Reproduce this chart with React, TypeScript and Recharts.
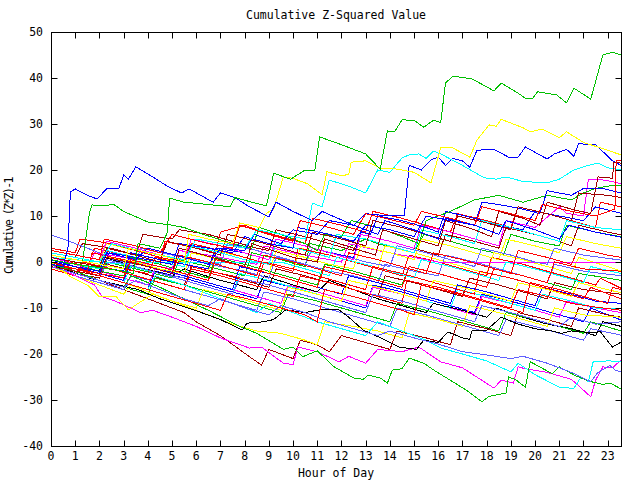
import React from "react";
import { LineChart, Line, XAxis, YAxis } from "recharts";

type Pt = [number, number];

const hourTicks = [0,1,2,3,4,5,6,7,8,9,10,11,12,13,14,15,16,17,18,19,20,21,22,23];
const valueTicks = [-40,-30,-20,-10,0,10,20,30,40,50];
const X_DOMAIN: [number, number] = [0, 23.55];
const Y_DOMAIN: [number, number] = [-40, 50];

const RED = "#ff0000", GREEN = "#00c000", BLUE = "#0000ff", MAGENTA = "#ff00ff", CYAN = "#00ffff",
  DARKRED = "#a00000", YELLOW = "#ffff00", BLACK = "#000000", LIGHTBLUE = "#6060ff";

const gTop: Pt[] = [[0,0.5],[1,-0.5],[2,-1.2],[3,-2],[3.4,-2.5],[3.6,4],[4.5,3],[4.8,6.3],[4.9,13.9],[5.5,13],[6.5,12.5],[7.4,12],[7.6,14],[8.3,13],[8.9,12.2],[9.2,19.3],[9.9,18],[10.5,20],[10.9,20],[11.1,27.2],[12,25.5],[13,23.5],[13.6,20.2],[13.9,28.5],[14.2,28.3],[14.5,30.9],[15,30.8],[15.4,29.3],[15.8,30.8],[16.1,30.3],[16.3,38.9],[16.6,40.4],[17.4,39.8],[18.3,37.2],[18.6,38.9],[19.3,36.7],[19.6,35.6],[19.9,35.6],[20.1,37],[20.9,36.3],[21.3,34.6],[21.6,37.8],[22.3,35.4],[22.8,45],[23.2,45.6],[23.55,45]];
const yTop: Pt[] = [[0,1.5],[1,0.5],[2,-0.5],[3,-1.5],[3.2,3],[4.5,1.5],[5.5,0],[5.7,6],[6.5,5],[7.5,4],[7.8,8.5],[8.6,7.5],[8.9,10.6],[9.2,11.5],[9.6,18.5],[10,18.2],[10.6,17],[11.2,14.6],[11.4,19.6],[12,18.8],[12.3,19],[12.4,21.7],[13,22],[13.6,20.4],[14.3,20.2],[15,19.5],[15.7,17.2],[16.1,24.8],[16.6,24.8],[17.3,22.8],[17.6,26.5],[18.1,29.8],[18.4,29.5],[18.6,31],[19.5,29.2],[19.8,28.3],[20.3,28.9],[21,27],[21.3,28.3],[22,26],[22.7,24.8],[23.55,23.3]];
const bTop: Pt[] = [[0,-0.5],[0.5,-1],[0.7,3],[0.8,15.2],[1,15.9],[1.5,14.5],[1.9,13.7],[2.3,15.9],[2.8,15.9],[3,18.9],[3.2,18],[3.5,20.7],[4.2,18.5],[4.8,16.5],[5.4,15],[5.7,15.9],[6.7,13],[7,15],[7.6,14],[8.2,12],[9,9.8],[9.3,13],[10,11],[10.8,9],[11.2,11],[12.5,8],[13.5,6],[13.8,9],[15,7],[16,5],[16.3,9.5],[17.5,8],[18.5,6],[18.8,9],[20,7],[21,5],[21.4,8],[22.5,6.5],[23.55,5.4]];
const bHigh: Pt[] = [[0,0],[1,-1],[2,-2],[2.3,2],[3.5,0.5],[4,3],[5.5,1],[6.5,-0.5],[7,3],[8,2.5],[8.4,6],[9.5,4],[10,7],[11,6],[11.5,9],[12.5,8],[13,10.5],[14,10],[14.6,10.2],[14.8,21],[15.3,20],[15.7,22.2],[16,22.8],[16.3,21],[16.6,22.5],[17,22],[17.3,20.6],[17.6,24.3],[18.3,24.5],[18.9,22.8],[19.3,22.8],[19.6,25],[20.5,22.4],[20.8,23.5],[21.3,24.5],[21.6,23],[21.8,25.7],[22.5,25.5],[23.2,22],[23.55,21]];
const cHigh: Pt[] = [[0,2],[1,1],[2,0],[2.5,4],[4,2],[5.5,0.5],[6,5],[7,4],[8,3],[8.5,7],[9.5,6],[10.5,5],[10.8,12.8],[11.2,12],[11.5,17.8],[12.3,16.5],[13,15],[13.5,20],[14,19.5],[14.5,22.6],[14.8,23.3],[15.2,23.5],[15.5,22.5],[15.8,24.1],[16.1,23.5],[17,21],[17.9,18.3],[18.4,18],[18.8,18.5],[19.5,17.5],[20.5,17.2],[21,18],[21.6,20],[22.2,21],[22.6,21.5],[23,20.5],[23.55,20]];
const dRight: Pt[] = [[0,-1],[2,-3],[2.3,1],[4,-1],[5,-2.5],[5.3,3],[7,0.5],[8,-1],[8.3,4],[10,1],[11,0],[11.3,5],[12.5,3],[13.4,1.5],[13.7,7],[15,5],[16,3.5],[16.3,9],[17.5,7],[18.2,5.5],[18.5,11],[19.5,9.5],[20.2,8],[20.5,13],[21.5,11.5],[22.3,10.5],[22.6,18.5],[23,18.3],[23.2,18.2],[23.25,21.7],[23.55,21.5]];
const rRight: Pt[] = [[0,2.5],[1,1.5],[2,0.5],[2.2,5],[3.5,3.5],[4.5,2],[5,6],[6.5,4],[7.5,3],[7.8,8],[9,6],[10,4.5],[10.3,9],[11.5,7.5],[12.5,6],[13,10.5],[14.2,9],[15,8],[15.3,11],[16.5,9.5],[17.5,8],[17.8,12],[19,10.5],[20,9],[20.3,12.5],[21.5,11],[22.5,10],[23.3,11.5],[23.35,22],[23.55,22]];
const g12: Pt[] = [[0,0],[0.5,-0.5],[1.3,0],[1.6,11],[1.7,12.4],[2.1,12.2],[2.6,12.5],[3,11],[4,8.7],[5,8],[5.5,7.5],[6.3,6],[7.5,4],[8.3,3],[8.6,7.5],[9.5,6],[10.5,4],[11,2.5],[11.3,6],[12,5.5],[12.4,9],[13.5,7.5],[14.5,5.5],[15.2,4],[15.5,9],[16.5,11],[17.5,13.5],[18.5,14.5],[19.5,13],[20.5,14.5],[21.5,13.5],[22,15],[22.5,16],[23,16.5],[23.55,16.7]];
const gLow: Pt[] = [[0,-0.5],[1,-2],[2,-4],[3,-5.5],[3.3,-3],[4.5,-5.5],[5.5,-8],[6.5,-10.5],[7.8,-14],[8.5,-15.5],[9.6,-19],[10,-18.5],[10.4,-20.6],[11,-19.3],[11.7,-22.8],[12.5,-25.2],[12.9,-25.5],[13.1,-24.6],[13.6,-25.2],[13.9,-26.3],[14.1,-23.5],[14.5,-23.2],[14.8,-20.9],[15.4,-22],[15.9,-23.8],[16.5,-25.7],[17.2,-28],[17.8,-30.4],[18.1,-29.2],[18.8,-28.5],[18.9,-25],[19.2,-25.6],[19.6,-27.2],[19.8,-21.7],[20.2,-22.8],[20.7,-24.3],[21,-22.8],[21.7,-24.8],[22.3,-26],[22.8,-26.6],[23.1,-26.3],[23.55,-27.6]];
const mLow: Pt[] = [[0,-0.5],[1,-3],[1.8,-5],[2.1,-7.5],[2.7,-8.6],[3.7,-11],[4.2,-10.5],[5,-12],[6,-14],[7,-16.5],[8.2,-18.7],[8.7,-18.5],[9.6,-22],[10,-22.3],[10.2,-18.5],[11,-19.5],[11.9,-21.7],[12.3,-20.5],[13,-22],[13.5,-19],[14.5,-19.5],[15.2,-18.5],[16.1,-21.7],[17,-23],[18.3,-27.4],[18.6,-25.7],[19.1,-26.3],[19.3,-22.8],[19.6,-23.2],[20.5,-24],[21.5,-25.5],[22.3,-29.3],[22.5,-25.7],[22.8,-22.8],[23.2,-23],[23.55,-21.3]];
const cLow: Pt[] = [[0,0],[1,-1.5],[2,-3],[3,-4.5],[4,-6],[4.3,-3],[5.5,-5],[6.5,-7],[7.5,-9],[8.5,-11],[9,-9],[10,-11],[11,-13],[12,-14.5],[13,-16],[13.5,-13],[14.5,-15],[15.5,-17],[16.1,-18.7],[17,-20],[18,-21.5],[19,-23.9],[19.3,-22],[20,-24.5],[21,-27.2],[21.6,-27.5],[21.9,-25],[22.2,-26],[22.4,-21.7],[23,-21.5],[23.55,-21.6]];
const lLow: Pt[] = [[0,-1],[1,-2.5],[2,-4],[3,-5.5],[3.5,-4],[4.5,-6],[5.5,-8],[6.5,-9.5],[7,-8],[8,-10],[9,-11.5],[9.5,-9.5],[10.5,-11],[11.5,-13],[12.5,-14.5],[13.5,-16],[14,-15],[15,-16.5],[16.1,-18],[17,-19.5],[18,-20.2],[19,-21],[19.5,-20.5],[20.5,-22],[21.5,-24],[22.3,-26],[22.6,-24],[23.1,-22.5],[23.3,-23.5],[23.55,-23.9]];
const kLow: Pt[] = [[0,-0.5],[1.6,-3.5],[3.6,-6],[4.5,-8],[5.9,-10.4],[7,-12.5],[7.9,-14.8],[8.1,-13.3],[8.8,-13],[9.2,-12.5],[9.7,-10.4],[10.5,-11],[11.1,-10.4],[11.9,-10.4],[12.3,-12],[12.9,-14.8],[13.5,-16.2],[14.4,-18.5],[15.1,-19],[15.4,-17],[16,-17.5],[16.4,-15.2],[17,-16.5],[17.3,-16.8],[17.4,-14.8],[18,-14.8],[18.6,-12],[19.3,-13.5],[20,-14.5],[20.7,-15],[21.1,-15.5],[21.5,-15],[22.2,-15.3],[22.7,-15.2],[23.2,-18.5],[23.55,-17.4]];
const kMid: Pt[] = [[0,0.5],[1,-0.5],[2,-2],[2.2,1],[3.5,-1],[5,-3],[5.5,-1.5],[7,-4],[8.5,-6],[8.8,-3],[10,-5],[11,-6.5],[11.5,-4],[12.5,-6],[13.5,-8],[14.5,-9.5],[15.5,-11],[15.8,-9],[17,-10.5],[18,-12],[18.4,-10],[19.5,-12],[20.5,-13.5],[21.5,-14.5],[22.5,-16],[22.8,-13],[23.55,-14]];
const rA: Pt[] = [[0,1],[1.5,-1],[1.8,3],[3,1.5],[4.5,-0.5],[4.7,4.5],[6,3],[6.8,2],[7,6.5],[8,8],[8.5,7],[9.5,5.5],[10.5,4],[10.8,9.5],[12,8],[13,6.5],[13.3,11],[14.5,9.5],[15.5,8],[16.5,6.5],[16.8,10.5],[18,9],[19,7.5],[19.3,12],[20.5,10.5],[21.5,9],[22.5,7.5],[22.7,13],[23.55,12]];
const gA: Pt[] = [[0,-1],[1,-2.5],[2,-3.5],[2.3,0],[3.5,-1.5],[5,-3.5],[5.3,0.5],[6.5,-1],[8,-3],[8.3,2],[9.5,0.5],[10.5,-1],[10.7,4],[12,2.5],[13,5],[13.5,4],[15,2],[15.4,6],[16.5,4.5],[17.5,3],[18.7,1.5],[19,6],[20,4.5],[21,3.5],[21.3,8],[22.5,6.5],[23.55,5.5]];
const bB: Pt[] = [[0,-0.5],[1,-1.5],[2,-2.5],[2.4,2],[3.5,1],[4.5,0],[5,-0.5],[5.3,4],[6.5,3],[7.5,2],[8,5.5],[9,4],[10,3],[10.2,7.5],[11.5,6],[12.5,4.5],[13,8],[14,7],[15,5.5],[15.5,10],[16.5,9],[17.5,8],[17.8,13],[18.5,12.5],[19.5,11.5],[20.2,10.5],[20.5,15.5],[21.5,14.5],[22,16],[22.8,16],[23.55,15]];
const bC: Pt[] = [[0,1],[1,0],[2,-1],[3,-2],[3.3,2],[4.5,0.5],[5.5,-0.5],[6.5,-1.5],[6.8,3],[8,2],[9,0.5],[9.3,5],[10.5,3.5],[11.5,2],[12.5,1],[12.8,6.5],[13.2,6],[13.5,10],[14.5,9],[15.5,7.5],[16,6.5],[16.3,11],[17.5,9.5],[18.5,8],[19.5,7],[20,11],[21,10],[22,9],[22.5,12],[23.55,10.6]];
const dB: Pt[] = [[0,2],[1,1],[1.3,4],[2.5,3],[3.5,1.5],[3.8,6],[5,5],[5.3,7],[6.5,6],[7.5,4.5],[8.5,3],[9,2.5],[9.3,7],[10.5,5.5],[11.5,4],[12.5,2.5],[12.8,6],[14,4.5],[15,3],[16,1.5],[16.3,6],[17.5,4.5],[18.5,3],[18.8,7.5],[20,6],[21,4.5],[21.5,3.5],[21.8,8],[23,6.5],[23.55,5.9]];
const lA: Pt[] = [[0,5.9],[0.5,5],[1,4],[1.5,3],[2,2],[2.3,1],[3,0],[3.5,-0.5],[3.7,3],[5,1.5],[6,0.5],[7,-0.5],[7.3,4],[8.5,2.5],[9.5,1],[10.5,-0.5],[10.8,3],[12,1.5],[13,0],[14,-1],[14.3,3.5],[15.5,2],[16.5,0.5],[17.5,-1],[17.8,3],[19,1.5],[20,0],[20.5,-0.5],[20.8,3],[22,1.5],[23.55,0.4]];
const mFlat: Pt[] = [[0,0.5],[1,-0.5],[1.5,-1.5],[1.8,2],[3,1],[4,-0.5],[5,-1.5],[5.3,2.5],[6.5,1.5],[7.5,0.5],[8.5,-0.5],[8.8,3.5],[10,2],[11,1],[12,0],[12.3,4],[13.5,2.5],[15,1],[16,0],[23.55,0]];
const lB: Pt[] = [[0,-1],[1,-2],[2,-3],[2.4,0],[3.5,-1],[4.5,-2.5],[5.5,-3.5],[5.8,0.5],[7,-1],[8,-2],[9,-3.5],[9.3,1],[10.5,-0.5],[11.5,-2],[12.5,-3],[13.5,-4.5],[13.8,-0.5],[15,-2],[16,-3],[16.3,1.5],[17.5,0],[18.5,-1.5],[19.5,-3],[20.5,-4.5],[20.8,-0.5],[22,-2],[23.55,-3]];
const rB: Pt[] = [[0,3],[1,2],[1.2,5],[2.5,4],[3.5,2.5],[4.5,1],[5.5,0],[5.8,4],[7,2.5],[8,1],[9,-0.5],[10,-2],[10.2,3],[11.5,1.5],[12.5,0],[13.5,-1.5],[14.5,-3],[14.8,1.5],[16,0],[17,-1.5],[18,-3],[18.2,1],[19.5,-0.5],[20.5,-2],[21.5,-3.5],[22.5,-5],[22.7,-3.5],[23.55,-5.7]];
const yB: Pt[] = [[0,0],[0.8,-3.2],[1.5,-5],[2,-7.6],[2.7,-7.6],[3.2,-10.4],[3.6,-9],[4.2,-7],[5,-8.5],[6,-10],[6.3,-6],[7.5,-7.5],[8.5,-9],[9.5,-10.5],[9.8,-5.5],[11,-7],[12,-8.5],[12.3,-4],[13.5,-5.5],[14.5,-7],[15.5,-8.5],[15.8,-4],[17,-5.5],[18,-7],[19,-8.5],[19.3,-4.5],[20.5,-6],[21.5,-7.5],[21.8,-4.5],[23,-6],[23.55,-6.7]];
const rC: Pt[] = [[0,1.5],[1,0.5],[2,-0.5],[3,-1.5],[4,-2.5],[4.3,1],[5.5,-0.5],[6.5,-2],[7.5,-3],[8.5,-4.5],[8.8,0],[10,-1.5],[11,-3],[12,-4.5],[13,-6],[13.3,-1],[14.5,-2.5],[15.5,-4],[16.5,-5.5],[17.5,-7],[17.7,-2],[19,-3.5],[20,-5],[21,-6.5],[22,-8],[22.3,-5.5],[23.55,-8]];
const cB: Pt[] = [[0,-0.5],[1,-2],[2,-3],[3,-4.5],[3.3,-1],[4.5,-2.5],[5.5,-4],[6.5,-5.5],[7.5,-7],[7.8,-2.5],[9,-4],[10,-5.5],[11,-7],[12,-8.5],[12.3,-4],[13.5,-5.5],[14.5,-7],[15.5,-8.5],[16.5,-10],[16.8,-6],[18,-7.5],[19,-9],[20,-10.5],[20.3,-7],[21.5,-8.5],[22.5,-10],[23.55,-10]];
const rD: Pt[] = [[0,-1.5],[1,-3],[1.3,0],[2.5,-1.5],[3.5,-3],[4.5,-4.5],[5.5,-6],[5.8,-1.5],[7,-3],[8,-4.5],[9,-6],[10,-7.5],[10.3,-3],[11.5,-4.5],[12.5,-6],[13.5,-7.5],[14.5,-9],[14.7,-4],[16,-5.5],[17,-7],[18,-8.5],[19,-10],[19.3,-6],[20.5,-7.5],[21.5,-9],[22.5,-9.8],[23.55,-10.5]];
const bD: Pt[] = [[0,0],[1,-1.5],[2,-3],[3,-4.5],[4,-6],[4.3,-2],[5.5,-3.5],[6.5,-5],[7.5,-6.5],[8.5,-8],[8.8,-4],[10,-5.5],[11,-7],[12,-8.5],[13,-10],[13.3,-5],[14.5,-6.5],[15.5,-8],[16.5,-9.5],[17.5,-11],[17.8,-7],[19,-8.5],[20,-10],[21,-11.5],[22,-13],[22.3,-10],[23.55,-12.6]];
const lC: Pt[] = [[0,-1.5],[1,-3],[2,-4.5],[3,-6],[3.3,-3],[4.5,-4.5],[5.5,-6],[6.5,-7.5],[7.5,-9],[8.5,-10.5],[8.8,-6.5],[10,-8],[11,-9.5],[12,-11],[13,-12.5],[14,-14],[14.3,-10],[15.5,-11.5],[16.5,-13],[17.5,-14.5],[18.5,-16],[18.8,-12.5],[20,-14],[21,-15.5],[22,-17],[22.3,-14.5],[23.55,-15.9]];
const yC: Pt[] = [[0,2],[1,1],[2,0],[2.3,4],[3.5,2.5],[4.5,1],[5.5,-0.5],[6.5,-2],[6.8,2.5],[8,1],[9,-0.5],[10,-2],[10.3,3],[11.5,1.5],[12.5,0],[13.5,-1.5],[13.8,3.5],[15,2],[16,0.5],[17,-1],[18,-2.5],[18.3,2],[19.5,0.5],[20.5,-1],[21.5,-2.5],[21.8,1],[23,-1],[23.55,-2]];
const gB: Pt[] = [[0,0.5],[1,-0.5],[2,-2],[3,-3],[3.3,1],[4.5,-0.5],[5.5,-2],[6.5,-3.5],[6.8,1],[8,-0.5],[9,-2],[10,-3.5],[11,-5],[11.3,-0.5],[12.5,-2],[13.5,-3.5],[14.5,-5],[14.8,-1],[16,-2.5],[17,-4],[18,-5.5],[18.3,-1.5],[19.5,-3],[20.5,-4.5],[21.5,-6],[21.8,-2.5],[23,-3.5],[23.55,-4]];
const dC: Pt[] = [[0,-1],[1,-2.5],[2,-3.5],[2.3,-0.5],[3.5,-2],[4.5,-3.5],[5.5,-5],[5.8,-1],[7,-2.5],[8,-4],[9,-5.5],[9.3,-1.5],[10.5,-3],[11.5,-4.5],[12.5,-6],[13.5,-7.5],[13.8,-3],[15,-4.5],[16,-6],[17,-7.5],[17.3,-3.5],[18.5,-5],[19.5,-6.5],[20.5,-8],[20.8,-4.5],[22,-6],[23.55,-7]];
const mB: Pt[] = [[0,1],[1,-0.5],[2,-2],[3,-3.5],[4,-5],[4.3,-1.5],[5.5,-3],[6.5,-4.5],[7.5,-6],[8.5,-7.5],[9.5,-9],[9.8,-5],[11,-6.5],[12,-8],[13,-9.5],[13.3,-5.5],[14.5,-7],[15.5,-8.5],[16.5,-10],[17.5,-11.5],[17.8,-7.5],[19,-9],[20,-10.5],[21,-12],[21.3,-8.5],[22.5,-10],[23.55,-11]];
const cFlat: Pt[] = [[0,1],[1,0.5],[2,0],[3,-0.5],[3.5,0],[9.5,0],[10.5,-1.5],[11.5,-3],[11.8,1],[13,-0.5],[14,-2],[15,-3.5],[15.3,0.5],[16.5,-1],[17.5,-2.5],[18.5,-4],[18.8,0],[20,-1.5],[21,-3],[22,-4.5],[22.3,-1],[23.55,-2.5]];
const yD: Pt[] = [[0,-0.5],[1,-2],[2,-3],[2.3,1],[3.5,0],[4.5,-1.5],[5.5,-2.5],[5.8,2],[7,0.5],[8,-1],[9,-2.5],[9.3,2.5],[10.5,1],[11.5,-0.5],[12.5,-1.5],[12.8,3.5],[14,2],[15,0.5],[15.3,5],[16.5,3.5],[17.5,2],[18.5,0.5],[18.8,5],[20,3.5],[21,2],[21.3,5.5],[22.5,4],[23.55,3]];
const rE: Pt[] = [[0,0],[1,-1],[1.5,-2],[1.7,2],[3,0.5],[4,-1],[5,-2.5],[5.3,1.5],[6.5,0],[7.5,-1.5],[8.5,-3],[8.8,1.5],[10,0],[11,-1.5],[12,-3],[12.3,2],[13.5,0.5],[14.5,-1],[15.5,-2.5],[15.8,2],[17,0.5],[18,-1],[19,-2.5],[19.3,2.5],[20.5,1],[21.5,-0.5],[21.8,3],[23,1.5],[23.55,1]];
const dLow: Pt[] = [[0,0],[1,-2],[2,-4],[3,-6],[4,-8],[5,-10],[5.5,-11],[6,-13],[7,-16],[8.2,-20.6],[8.7,-22.4],[9,-19],[9.5,-20],[10,-21],[10.3,-17],[11,-18],[11.5,-19.5],[12,-16],[13,-17.5],[14,-19],[14.3,-15],[15.5,-16.5],[16.5,-18],[16.8,-13],[18,-14.5],[19,-16],[19.3,-11],[20.5,-12.5],[21.5,-14],[21.8,-10],[23,-11.5],[23.55,-12]];
const bE: Pt[] = [[0,0.5],[1,-1],[2,-2.5],[3,-4],[3.3,0],[4.5,-1.5],[5.5,-3],[6.5,-4.5],[7.5,-6],[7.8,-1],[9,-2.5],[10,-4],[11,-5.5],[12,-7],[12.3,-3],[13.5,-4.5],[14.5,-6],[15.5,-7.5],[16.5,-9],[16.8,-5],[18,-6.5],[19,-8],[20,-9.5],[20.3,-5.5],[21.5,-7],[22.5,-8.5],[23.55,-9]];
const gC: Pt[] = [[0,-1],[1,-2.5],[2,-4],[3,-5.5],[4,-7],[4.3,-3.5],[5.5,-5],[6.5,-6.5],[7.5,-8],[8.5,-9.5],[9.5,-11],[9.8,-7],[11,-8.5],[12,-10],[13,-11.5],[14,-13],[14.3,-9],[15.5,-10.5],[16.5,-12],[17.5,-13.5],[18.5,-15],[18.8,-11],[20,-12.5],[21,-14],[22,-15.5],[22.3,-13],[23.55,-15]];
const mC: Pt[] = [[0,2.5],[1,1.5],[2,0.5],[2.3,4.5],[3.5,3],[4.5,1.5],[5.5,0.5],[5.8,5],[7,3.5],[8,2],[9,0.5],[9.3,5],[10.5,3.5],[11.5,2],[12.5,0.5],[12.8,6],[14,4.5],[15,3],[15.3,8],[16.5,6.5],[17.5,5],[18.5,3.5],[18.8,9],[20,7.5],[21,12],[21.3,10.6],[22,10],[22.2,18],[22.6,18],[23.2,17.5],[23.55,17]];
const yE: Pt[] = [[0,-1],[1,-3],[2,-5],[3,-7],[3.3,-5],[4.5,-7.5],[5.5,-9.5],[6.5,-11.5],[7.5,-13.5],[8.5,-15],[9.5,-15.5],[10.5,-17],[11,-18],[11.3,-13],[12.5,-14],[13.5,-15],[14.5,-16.5],[14.8,-11],[16,-12.5],[17,-14],[17.3,-9.5],[18.5,-11],[19.5,-12.5],[20.5,-14],[20.8,-10],[22,-11.5],[23.55,-12]];
const cC: Pt[] = [[0,0.5],[1,-0.5],[2,-1.5],[2.3,2.5],[3.5,1],[4.5,0],[5.5,-1],[5.8,3.5],[7,2],[8,0.5],[9,-0.5],[9.3,4],[10.5,2.5],[11.5,1],[11.8,6],[13,5],[14,3.5],[15,2],[15.3,7],[16.5,5.5],[17.5,4],[17.8,9],[19,7.5],[20,6],[21,4.5],[21.3,9],[22.5,7.5],[23.55,7]];
const rF: Pt[] = [[0,-0.5],[1,-1.5],[2,-2.5],[3,-3.5],[3.3,0.5],[4.5,-1],[5.5,-2.5],[6.5,-4],[6.8,0.5],[8,-1],[9,-2.5],[10,-4],[11,-5.5],[11.3,-1],[12.5,-2.5],[13.5,-4],[14.5,-5.5],[14.8,-1],[16,-2.5],[17,-4],[18,-5.5],[18.3,-1.5],[19.5,-3],[20.5,-4.5],[20.8,0],[22,-1.5],[23.55,-2]];
const dE: Pt[] = [[0,1],[1,0],[2,-1],[2.3,3],[3.5,1.5],[4.5,0],[4.8,4.5],[6,3],[7,1.5],[7.3,6],[8.5,4.5],[9.5,3],[10.5,1.5],[10.8,6.5],[12,5],[13,3.5],[13.3,9],[14.5,7.5],[15.5,6],[16.5,4.5],[16.8,10],[18,8.5],[19,7],[19.3,12],[20.5,10.5],[21.5,9],[21.8,15],[23,14.5],[23.55,14]];
const rG: Pt[] = [[0,0],[1,-1.5],[2,-3],[3,-4.5],[4,-6],[5,-7.5],[6,-9],[7,-10.5],[7.3,-7],[8.5,-8.5],[9.5,-10],[10.5,-11.5],[11,-13],[11.3,-6],[12.5,-7.5],[13.5,-9],[14.5,-10.5],[15,-11.5],[15.3,-5],[16.5,-6.5],[17.5,-8],[18.5,-9.5],[19.5,-11],[19.8,-4.5],[21,-6],[22,-7.5],[23,-9],[23.2,-5.5],[23.55,-6]];
const lD: Pt[] = [[0,0],[1,-1.5],[2,-3],[2.3,0.5],[3.5,-1],[4.5,-2.5],[5.5,-4],[6.5,-5.5],[7.5,-7],[7.8,-3.5],[9,-5],[10,-6.5],[11,-8],[12,-9.5],[13,-11],[13.3,-7],[14.5,-8.5],[15.5,-10],[16.5,-11.5],[17.5,-13],[17.8,-9.5],[19,-11],[20,-12.5],[21,-14],[21.5,-12],[22.5,-13.5],[23.55,-13]];

const SERIES: { name: string; color: string; pts: Pt[] }[] = [
  { name: "rA", color: RED, pts: rA },
  { name: "gA", color: GREEN, pts: gA },
  { name: "bD", color: BLUE, pts: bD },
  { name: "mB", color: MAGENTA, pts: mB },
  { name: "cB", color: CYAN, pts: cB },
  { name: "dC", color: DARKRED, pts: dC },
  { name: "yC", color: YELLOW, pts: yC },
  { name: "kMid", color: BLACK, pts: kMid },
  { name: "lB", color: LIGHTBLUE, pts: lB },
  { name: "rB", color: RED, pts: rB },
  { name: "gB", color: GREEN, pts: gB },
  { name: "bE", color: BLUE, pts: bE },
  { name: "mFlat", color: MAGENTA, pts: mFlat },
  { name: "cFlat", color: CYAN, pts: cFlat },
  { name: "dB", color: DARKRED, pts: dB },
  { name: "yD", color: YELLOW, pts: yD },
  { name: "lA", color: LIGHTBLUE, pts: lA },
  { name: "rC", color: RED, pts: rC },
  { name: "gC", color: GREEN, pts: gC },
  { name: "bC", color: BLUE, pts: bC },
  { name: "mC", color: MAGENTA, pts: mC },
  { name: "cC", color: CYAN, pts: cC },
  { name: "dLow", color: DARKRED, pts: dLow },
  { name: "yE", color: YELLOW, pts: yE },
  { name: "lC", color: LIGHTBLUE, pts: lC },
  { name: "rD", color: RED, pts: rD },
  { name: "g12", color: GREEN, pts: g12 },
  { name: "bB", color: BLUE, pts: bB },
  { name: "mLow", color: MAGENTA, pts: mLow },
  { name: "cLow", color: CYAN, pts: cLow },
  { name: "dE", color: DARKRED, pts: dE },
  { name: "yB", color: YELLOW, pts: yB },
  { name: "kLow", color: BLACK, pts: kLow },
  { name: "lD", color: LIGHTBLUE, pts: lD },
  { name: "rE", color: RED, pts: rE },
  { name: "gLow", color: GREEN, pts: gLow },
  { name: "bHigh", color: BLUE, pts: bHigh },
  { name: "cHigh", color: CYAN, pts: cHigh },
  { name: "dRight", color: DARKRED, pts: dRight },
  { name: "yTop", color: YELLOW, pts: yTop },
  { name: "lLow", color: LIGHTBLUE, pts: lLow },
  { name: "rF", color: RED, pts: rF },
  { name: "rG", color: RED, pts: rG },
  { name: "rRight", color: RED, pts: rRight },
  { name: "bTop", color: BLUE, pts: bTop },
  { name: "gTop", color: GREEN, pts: gTop },
];

const FONT = "'DejaVu Sans Mono', 'Liberation Mono', monospace";
const tickStyle = { fontFamily: FONT, fontSize: 11.5, fill: "#000" };

// plot-area layout (chart margins + axis sizes)
const CHART_W = 640, CHART_H = 480;
const M_TOP = 32, M_RIGHT = 19, Y_AXIS_W = 51, X_AXIS_H = 34;
const PLOT_L = Y_AXIS_W, PLOT_T = M_TOP;
const PLOT_W = CHART_W - M_RIGHT - Y_AXIS_W, PLOT_H = CHART_H - M_TOP - X_AXIS_H;
const TICK = 6;

function Frame() {
  const [x0, x1] = X_DOMAIN;
  const [y0, y1] = Y_DOMAIN;
  const px = (h: number) => Math.round(PLOT_L + ((h - x0) / (x1 - x0)) * PLOT_W) + 0.5;
  const py = (v: number) => Math.round(PLOT_T + ((y1 - v) / (y1 - y0)) * PLOT_H) + 0.5;
  const L = PLOT_L + 0.5, R = PLOT_L + PLOT_W + 0.5, T = PLOT_T + 0.5, B = PLOT_T + PLOT_H + 0.5;
  return (
    <svg width={CHART_W} height={CHART_H} style={{ position: "absolute", left: 0, top: 0, pointerEvents: "none" }}>
      <rect x={L} y={T} width={R - L} height={B - T} fill="none" stroke="#000" strokeWidth={1} />
      {hourTicks.map((h) => (
        <g key={"h" + h}>
          <line x1={px(h)} x2={px(h)} y1={B} y2={B - TICK} stroke="#000" strokeWidth={1} />
          <line x1={px(h)} x2={px(h)} y1={T} y2={T + TICK} stroke="#000" strokeWidth={1} />
        </g>
      ))}
      {valueTicks.map((v) => (
        <g key={"v" + v}>
          <line x1={L} x2={L + TICK} y1={py(v)} y2={py(v)} stroke="#000" strokeWidth={1} />
          <line x1={R} x2={R - TICK} y1={py(v)} y2={py(v)} stroke="#000" strokeWidth={1} />
        </g>
      ))}
    </svg>
  );
}

export default function App() {
  return (
    <div style={{ position: "absolute", left: 0, top: 0, width: CHART_W, height: CHART_H, background: "#fff" }}>
      <style>{`.recharts-line-curve{shape-rendering:crispEdges}`}</style>
      <LineChart width={CHART_W} height={CHART_H} margin={{ top: M_TOP, right: M_RIGHT, bottom: 0, left: 0 }}>
        <XAxis
          xAxisId="bottom"
          dataKey="h"
          type="number"
          domain={X_DOMAIN}
          ticks={hourTicks}
          allowDataOverflow
          height={X_AXIS_H}
          tickSize={0}
          tickLine={false}
          axisLine={false}
          tickMargin={6}
          tick={tickStyle}
          interval={0}
        />
        <YAxis
          yAxisId="left"
          type="number"
          domain={Y_DOMAIN}
          ticks={valueTicks}
          allowDataOverflow
          width={Y_AXIS_W}
          tickSize={0}
          tickLine={false}
          axisLine={false}
          tickMargin={8}
          tick={tickStyle}
          interval={0}
        />
        {SERIES.map((s) => (
          <Line
            key={s.name}
            xAxisId="bottom"
            yAxisId="left"
            data={s.pts.map(([h, v]) => ({ h, v }))}
            dataKey="v"
            type="linear"
            stroke={s.color}
            strokeWidth={1}
            dot={false}
            activeDot={false}
            isAnimationActive={false}
          />
        ))}
      </LineChart>
      <Frame />
      <div style={{ position: "absolute", left: 0, width: 672, top: 8, textAlign: "center", fontFamily: FONT, fontSize: 11.5, lineHeight: "14px", color: "#000" }}>
        Cumulative Z-Squared Value
      </div>
      <div style={{ position: "absolute", left: 0, width: 672, top: 466, textAlign: "center", fontFamily: FONT, fontSize: 11.5, lineHeight: "14px", color: "#000" }}>
        Hour of Day
      </div>
      <div style={{ position: "absolute", left: 9 - 60, top: 226 - 7, width: 120, textAlign: "center", fontFamily: FONT, fontSize: 11.5, lineHeight: "14px", letterSpacing: "-1.6px", color: "#000", transform: "rotate(-90deg)" }}>
        Cumulative (Z*Z)-1
      </div>
    </div>
  );
}
